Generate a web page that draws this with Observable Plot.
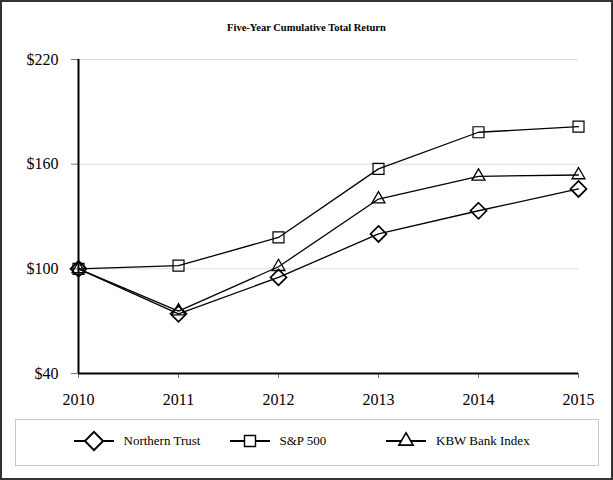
<!DOCTYPE html>
<html>
<head>
<meta charset="utf-8">
<script src="https://cdn.jsdelivr.net/npm/d3@7"></script>
<script src="https://cdn.jsdelivr.net/npm/@observablehq/plot@0.6"></script>
<style>
  html, body { margin: 0; padding: 0; background: #fff; }
  #wrap { position: relative; width: 613px; height: 480px; overflow: hidden; font-family: "Liberation Serif", "Times New Roman", serif; }
  #border { position: absolute; left: 0; top: 0; width: 609px; height: 476px; border: 2px solid #333; pointer-events: none; }
  #title { position: absolute; left: 0; top: 22px; width: 613px; text-align: center; font-weight: bold; font-size: 10.5px; color: #000; }
  #chart { position: absolute; left: 0; top: 0; }
  #legend { position: absolute; left: 15px; top: 419px; width: 582px; height: 45px; border: 1px solid #c8c8c8; }
  .item { position: absolute; top: 10px; height: 22px; display: flex; align-items: center; font-size: 13px; color: #000; white-space: nowrap; }
  .item svg { margin-right: 10px; }
</style>
</head>
<body>
<div id="wrap">
  <div id="chart"></div>
  <div id="title">Five-Year Cumulative Total Return</div>
  <div id="legend"></div>
  <div id="border"></div>
</div>
<script>
const years = [2010, 2011, 2012, 2013, 2014, 2015];
const northernTrust = [100, 74.2, 95.1, 120.0, 133.3, 145.8];
const sp500 = [100, 101.8, 118.0, 157.3, 178.3, 181.5];
const kbwBank = [100, 75.8, 101.2, 140.0, 153.0, 153.8];
const seriesNames = ["Northern Trust", "S&P 500", "KBW Bank Index"];
const yTicks = [40, 100, 160, 220];
const gridTicks = [100, 160, 220];

const seriesValues = [northernTrust, sp500, kbwBank];
const symbols = ["diamond2", "square2", "triangle2"];
const radii = [7.2, 7, 6.2];
const strokeWidths = [1.7, 1.2, 1.3];

const data = [];
seriesNames.forEach((name, i) => {
  years.forEach((yr, j) => data.push({series: name, year: yr, value: seriesValues[i][j]}));
});

const font = '"Liberation Serif", "Times New Roman", serif';

const marks = [
  Plot.gridY(gridTicks, {stroke: "#dcdcdc", strokeOpacity: 1}),
  Plot.axisY({ticks: yTicks, tickFormat: d => "$" + d, tickSize: 7, tickPadding: 13, fontSize: 16, fontFamily: font, stroke: "#777", color: "#000", label: null}),
  Plot.axisX({ticks: years, tickFormat: d => String(d), tickSize: 5, tickPadding: 15, fontSize: 16, fontFamily: font, stroke: "#777", color: "#000", label: null}),
  Plot.ruleX([years[0]], {stroke: "#000", strokeWidth: 2}),
  Plot.ruleY([yTicks[0]], {stroke: "#000", strokeWidth: 2}),
  Plot.line(data, {x: "year", y: "value", z: "series", stroke: "#000", strokeWidth: 1.3})
];
seriesNames.forEach((name, i) => {
  marks.push(Plot.dot(data.filter(d => d.series === name), {
    x: "year", y: "value", symbol: symbols[i], r: radii[i], stroke: "#000", fill: "none", strokeWidth: strokeWidths[i]
  }));
});

const chart = Plot.plot({
  width: 613,
  height: 410,
  marginLeft: 78,
  marginRight: 35,
  marginTop: 59,
  marginBottom: 37,
  style: {background: "transparent", fontFamily: font},
  x: {domain: [years[0], years[years.length - 1]]},
  y: {domain: [yTicks[0], yTicks[yTicks.length - 1]]},
  marks
});
document.getElementById("chart").appendChild(chart);

// Legend
const legend = document.getElementById("legend");
const legendLefts = [57.5, 213.5, 370];
const legendSymbols = [d3.symbolDiamond2, d3.symbolSquare2, d3.symbolTriangle2];
const legendSizes = [Math.PI * 8.2 * 8.2, Math.PI * 7 * 7, Math.PI * 6.8 * 6.8];
const legendStroke = [2, 1.4, 1.6];
seriesNames.forEach((name, i) => {
  const item = document.createElement("div");
  item.className = "item";
  item.style.left = legendLefts[i] + "px";
  const ns = "http://www.w3.org/2000/svg";
  const svg = document.createElementNS(ns, "svg");
  svg.setAttribute("width", 40);
  svg.setAttribute("height", 22);
  const line = document.createElementNS(ns, "line");
  line.setAttribute("x1", 0); line.setAttribute("x2", 40);
  line.setAttribute("y1", 11); line.setAttribute("y2", 11);
  line.setAttribute("stroke", "#000"); line.setAttribute("stroke-width", 2);
  svg.appendChild(line);
  const path = document.createElementNS(ns, "path");
  path.setAttribute("d", d3.symbol(legendSymbols[i], legendSizes[i])());
  path.setAttribute("transform", "translate(20,11)");
  path.setAttribute("fill", "#fff");
  path.setAttribute("stroke", "#000");
  path.setAttribute("stroke-width", legendStroke[i]);
  svg.appendChild(path);
  item.appendChild(svg);
  const span = document.createElement("span");
  span.textContent = name;
  item.appendChild(span);
  legend.appendChild(item);
});
</script>
</body>
</html>
